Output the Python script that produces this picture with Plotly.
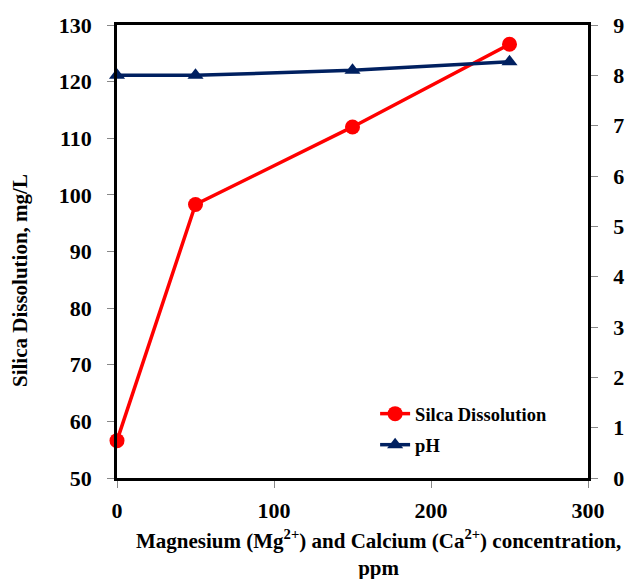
import plotly.graph_objects as go

conc = [0, 50, 150, 250]
silica = [56.6, 98.3, 112.0, 126.6]
ph = [8.0, 8.0, 8.1, 8.27]

FONT = "Liberation Serif"
fig = go.Figure()
fig.add_trace(go.Scatter(x=conc, y=silica, name="<b>Silca Dissolution</b>", mode="lines+markers",
                         legendgroup="a",
                         line=dict(color="#FF0000", width=3.5),
                         marker=dict(symbol="circle", size=15, color="#FF0000"),
                         cliponaxis=False))
fig.add_trace(go.Scatter(x=conc, y=ph, name="<b>pH</b>", mode="lines+markers", yaxis="y2",
                         legendgroup="b",
                         line=dict(color="#002060", width=3.5),
                         marker=dict(symbol="triangle-up", size=14, color="#002060"),
                         cliponaxis=False))

def axis_common(standoff):
    return dict(showgrid=False, zeroline=False, ticks="outside", ticklen=7,
                tickcolor="#888888", tickwidth=1, ticklabelstandoff=standoff,
                tickprefix="<b>", ticksuffix="</b>",
                tickfont=dict(family=FONT, size=22, color="black"))

fig.update_layout(
    width=636, height=579,
    margin=dict(l=117, r=39, t=25, b=101),
    plot_bgcolor="white", paper_bgcolor="white",
    font=dict(family=FONT, color="black"),
    xaxis=dict(range=[0, 300], dtick=100, showline=True, linecolor="black", linewidth=2.5,
               mirror=True, **axis_common(4)),
    yaxis=dict(range=[50, 130], dtick=10, showline=True, linecolor="black", linewidth=2.5,
               **axis_common(11)),
    yaxis2=dict(range=[0, 9], dtick=1, overlaying="y", side="right", showline=True,
                linecolor="black", linewidth=2.5, **axis_common(11)),
    legend=dict(x=0.548, y=0.183, xanchor="left", yanchor="top", bgcolor="rgba(0,0,0,0)",
                font=dict(family=FONT, size=18.5, color="black"),
                traceorder="grouped", tracegroupgap=4),
    showlegend=True,
)

fig.add_annotation(text="<b>Silica Dissolution, mg/L</b>", textangle=-90,
                   xref="paper", yref="paper", x=-0.206, y=0.437,
                   xanchor="center", yanchor="middle", showarrow=False,
                   font=dict(family=FONT, size=21, color="black"))

fig.add_annotation(text="<b>Magnesium (Mg<sup>2+</sup>) and Calcium (Ca<sup>2+</sup>) concentration,</b><br><b>ppm</b>",
                   xref="paper", yref="paper", x=0.555, y=-0.165, xanchor="center", yanchor="middle",
                   showarrow=False, font=dict(family=FONT, size=21, color="black"))

fig.write_html("out.html")
